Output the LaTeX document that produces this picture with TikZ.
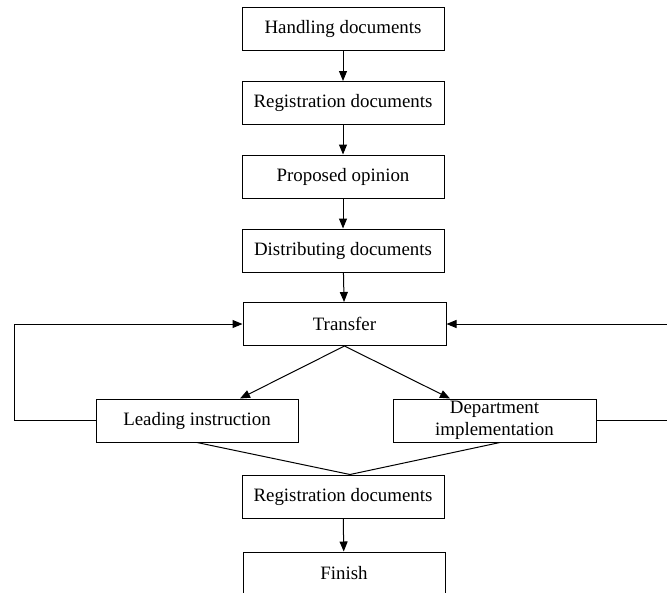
\documentclass[tikz,border=0pt]{standalone}
\usepackage{fontspec}
\setmainfont{Liberation Serif}
\usetikzlibrary{arrows.meta,calc}
\begin{document}
\begin{tikzpicture}[x=1pt,y=-1pt,
  box/.style={draw, line width=1pt, minimum width=202pt, minimum height=43pt, inner sep=0pt,
    font=\fontsize{18.9}{21}\selectfont, align=center},
  conn/.style={line width=1pt, -{Triangle[length=10pt,width=8pt]}},
  plain/.style={line width=1pt}]
\useasboundingbox (0,0) rectangle (667,592);
\clip (0,0) rectangle (667,592);
\node[box] (b1) at (343,28.7) {Handling documents};
\node[box] (b2) at (343,103) {Registration documents};
\node[box] (b3) at (343,176.5) {Proposed opinion};
\node[box] (b4) at (343,250.5) {Distributing documents};
\node[box, minimum width=203pt] (tr) at (344.5,324) {Transfer};
\node[box] (li) at (197,420.5) {Leading instruction};
\node[box, minimum width=203pt] (di) at (494.5,420.5) {\raisebox{-2pt}{Department}\\[1pt]\raisebox{-2pt}{implementation}};
\node[box] (r2) at (343,496.5) {Registration documents};
\node[box] (fin) at (344,573.5) {Finish};
\coordinate (lft) at (14,0);
\coordinate (rgt) at (670,0);
\draw[conn] (b1) -- (b2);
\draw[conn] (b2) -- (b3);
\draw[conn] (b3) -- (b4);
\draw[conn] (b4) -- (tr);
\draw[conn] (tr.south) -- ($(li.north)+(43,0)$);
\draw[conn] (tr.south) -- ($(di.north)+(-44.5,0)$);
\draw[plain] (li.south) -- ($(r2.north)+(7,0)$) -- ($(di.south)+(5.5,0)$);
\draw[conn] (r2) -- (fin);
\draw[conn] (li.west) -- (li.west -| lft) -- (tr.west -| lft) -- (tr.west);
\draw[conn] (di.east) -- (di.east -| rgt) -- (tr.east -| rgt) -- (tr.east);
\end{tikzpicture}
\end{document}
